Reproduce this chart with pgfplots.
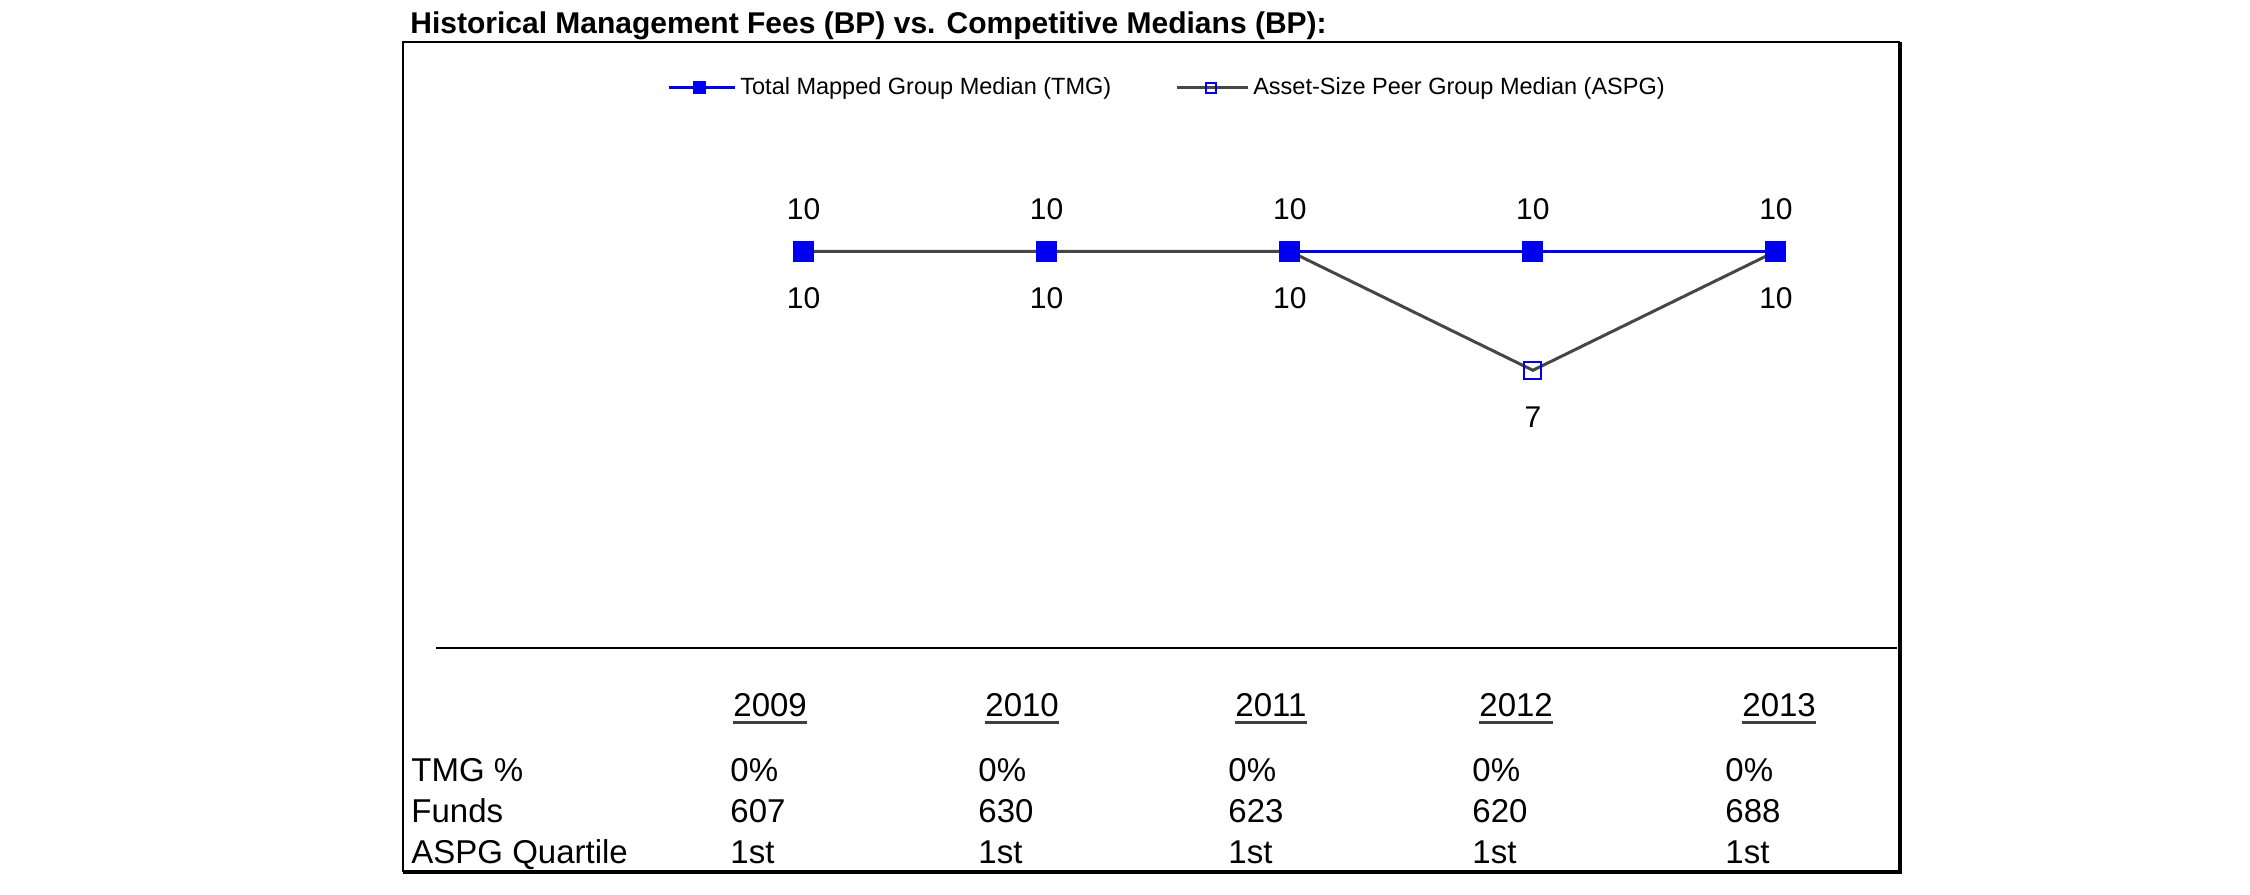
\documentclass[border=0pt]{standalone}
\usepackage{pgfplots}
\pgfplotsset{compat=1.18}
\usepackage{fontspec}
\setmainfont{Liberation Sans}

\definecolor{tmgblue}{RGB}{0,0,240}
\definecolor{aspggray}{RGB}{70,70,70}
\newcommand{\tabfont}{\fontsize{16.5bp}{19bp}\selectfont}

\begin{document}
\begin{tikzpicture}
\path[use as bounding box] (0bp,0bp) rectangle (1125bp,447.5bp);

% title and frame
\node[anchor=base west, inner sep=0pt, font=\fontsize{15bp}{18bp}\selectfont\bfseries]
  at (205bp,430.5bp) {Historical Management Fees (BP) vs. Competitive Medians (BP):};
\draw[line width=1.2bp] (950bp,426.5bp) -- (201.5bp,426.5bp) -- (201.5bp,11.5bp);
\draw[line width=1.6bp] (201.5bp,11.5bp) -- (950bp,11.5bp) -- (950bp,426.5bp);

\begin{axis}[
    at={(218bp,123.5bp)}, anchor=south west,
    x=121.55bp, y=19.835bp,
    xmin=-0.512, xmax=5.498, ymin=0, ymax=15,
    axis x line*=bottom, axis y line=none,
    xtick=\empty, ytick=\empty,
    axis line style={line width=1.15bp, black},
    clip=false,
    /pgf/number format/assume math mode=true,
    legend columns=2,
    legend cell align=left,
    legend style={at={(0.1581,0.9412)}, anchor=west, draw=none, fill=none,
        inner sep=0pt, font=\fontsize{11.75bp}{14bp}\selectfont,
        /tikz/every even column/.append style={column sep=30bp}},
]
% TMG line
\addplot[tmgblue, line width=1.5bp, mark=square*, mark size=5bp,
    mark options={solid, line width=0.5bp},
    nodes near coords,
    every node near coord/.append style={anchor=base, yshift=16bp, text=black,
        font=\fontsize{15bp}{18bp}\selectfont},
    legend image code/.code={\draw[mark repeat=2, mark phase=2, mark size=3bp]
        plot coordinates {(0bp,0bp) (15.5bp,0bp) (33bp,0bp)};}]
    coordinates {(1,10) (2,10) (3,10) (4,10) (5,10)};
\addlegendentry{Total Mapped Group Median (TMG)}
% ASPG line
\addplot[aspggray, line width=1.5bp, mark=square, mark size=4.25bp,
    mark options={tmgblue, solid, line width=1bp},
    nodes near coords,
    every node near coord/.append style={anchor=base, yshift=-28.5bp, text=black,
        font=\fontsize{15bp}{18bp}\selectfont},
    legend image code/.code={\draw[mark repeat=2, mark phase=2, mark size=2.4bp]
        plot coordinates {(0bp,0bp) (17bp,0bp) (35.5bp,0bp)};}]
    coordinates {(1,10) (2,10) (3,10) (4,7) (5,10)};
\addlegendentry{Asset-Size Peer Group Median (ASPG)}
% TMG markers on top
\addplot[only marks, tmgblue, mark=square*, mark size=5bp,
    mark options={line width=0.5bp}, forget plot]
    coordinates {(1,10) (2,10) (3,10) (4,10) (5,10)};
\end{axis}

% table under the chart
\begin{scope}[every node/.style={anchor=base west, inner sep=0pt, font=\tabfont}]
\node at (205.5bp,56.5bp) {TMG \%};
\node at (205.5bp,36.5bp) {Funds};
\node at (205.5bp,16bp) {ASPG Quartile};
\foreach \yx/\yr in {366.5/2009, 492.5/2010, 617.5/2011, 739.5/2012, 871/2013} {
  \node (yr) at (\yx bp,89bp) {\yr};
  \draw[line width=1.5bp, black!75] ([yshift=-3bp]yr.base west) -- ([yshift=-3bp]yr.base east);
}
\foreach \vx/\fu in {365/607, 489/630, 614/623, 736/620, 862.5/688} {
  \node at (\vx bp,56.5bp) {0\%};
  \node at (\vx bp,36.5bp) {\fu};
  \node at (\vx bp,16bp) {1st};
}
\end{scope}
\end{tikzpicture}
\end{document}
